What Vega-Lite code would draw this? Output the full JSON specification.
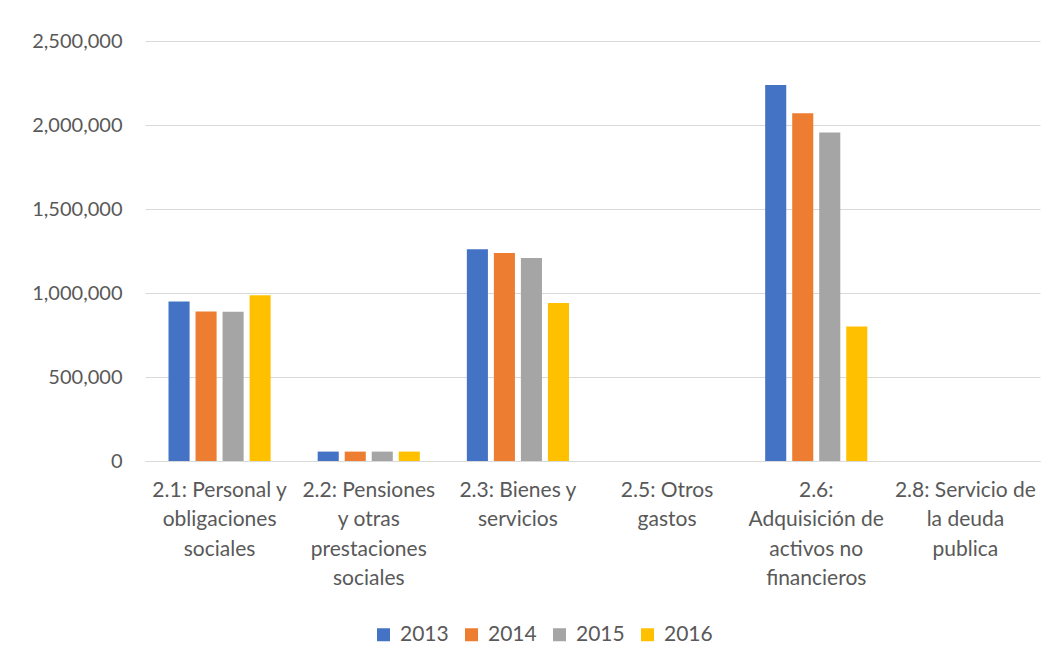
{
  "$schema": "https://vega.github.io/schema/vega-lite/v6.json",
  "width": 895,
  "height": 420,
  "autosize": "none",
  "padding": {"left": 145, "top": 41, "right": 16, "bottom": 203},
  "background": "white",
  "config": {
    "view": {"stroke": null},
    "font": "Lato"
  },
  "data": {
    "values": [
      {"cat": "2.1: Personal y obligaciones sociales", "year": "2013", "value": 949000},
      {"cat": "2.1: Personal y obligaciones sociales", "year": "2014", "value": 890000},
      {"cat": "2.1: Personal y obligaciones sociales", "year": "2015", "value": 889000},
      {"cat": "2.1: Personal y obligaciones sociales", "year": "2016", "value": 987000},
      {"cat": "2.2: Pensiones y otras prestaciones sociales", "year": "2013", "value": 56000},
      {"cat": "2.2: Pensiones y otras prestaciones sociales", "year": "2014", "value": 56000},
      {"cat": "2.2: Pensiones y otras prestaciones sociales", "year": "2015", "value": 56000},
      {"cat": "2.2: Pensiones y otras prestaciones sociales", "year": "2016", "value": 56000},
      {"cat": "2.3: Bienes y servicios", "year": "2013", "value": 1260000},
      {"cat": "2.3: Bienes y servicios", "year": "2014", "value": 1238000},
      {"cat": "2.3: Bienes y servicios", "year": "2015", "value": 1208000},
      {"cat": "2.3: Bienes y servicios", "year": "2016", "value": 940000},
      {"cat": "2.5: Otros gastos", "year": "2013", "value": 0},
      {"cat": "2.5: Otros gastos", "year": "2014", "value": 0},
      {"cat": "2.5: Otros gastos", "year": "2015", "value": 0},
      {"cat": "2.5: Otros gastos", "year": "2016", "value": 0},
      {"cat": "2.6: Adquisición de activos no financieros", "year": "2013", "value": 2238000},
      {"cat": "2.6: Adquisición de activos no financieros", "year": "2014", "value": 2070000},
      {"cat": "2.6: Adquisición de activos no financieros", "year": "2015", "value": 1956000},
      {"cat": "2.6: Adquisición de activos no financieros", "year": "2016", "value": 800000},
      {"cat": "2.8: Servicio de la deuda publica", "year": "2013", "value": 0},
      {"cat": "2.8: Servicio de la deuda publica", "year": "2014", "value": 0},
      {"cat": "2.8: Servicio de la deuda publica", "year": "2015", "value": 0},
      {"cat": "2.8: Servicio de la deuda publica", "year": "2016", "value": 0}
    ]
  },
  "mark": {"type": "bar"},
  "encoding": {
    "x": {
      "field": "cat",
      "type": "nominal",
      "sort": null,
      "title": null,
      "scale": {"paddingInner": 0, "paddingOuter": 0},
      "axis": {
        "labelAngle": 0,
        "labelLimit": 0,
        "labelFontSize": 21,
        "labelColor": "#595959",
        "labelLineHeight": 29.5,
        "labelPadding": 18,
        "labelBaseline": "top",
        "ticks": false,
        "domainColor": "#d9d9d9",
        "domainWidth": 1,
        "labelExpr": "datum.value == '2.1: Personal y obligaciones sociales' ? ['2.1: Personal y', 'obligaciones', 'sociales'] : datum.value == '2.2: Pensiones y otras prestaciones sociales' ? ['2.2: Pensiones', 'y otras', 'prestaciones', 'sociales'] : datum.value == '2.3: Bienes y servicios' ? ['2.3: Bienes y', 'servicios'] : datum.value == '2.5: Otros gastos' ? ['2.5: Otros', 'gastos'] : datum.value == '2.6: Adquisición de activos no financieros' ? ['2.6:', 'Adquisición de', 'activos no', 'financieros'] : ['2.8: Servicio de', 'la deuda', 'publica']"
      }
    },
    "xOffset": {
      "field": "year",
      "type": "nominal",
      "scale": {"paddingInner": 0.22, "paddingOuter": 0.87}
    },
    "y": {
      "field": "value",
      "type": "quantitative",
      "title": null,
      "scale": {"domain": [0, 2500000]},
      "axis": {
        "values": [0, 500000, 1000000, 1500000, 2000000, 2500000],
        "format": ",.0f",
        "grid": true,
        "gridColor": "#d9d9d9",
        "gridWidth": 1,
        "domain": false,
        "ticks": false,
        "labelFontSize": 20,
        "labelColor": "#595959",
        "labelPadding": 23
      }
    },
    "color": {
      "field": "year",
      "type": "nominal",
      "scale": {"domain": ["2013", "2014", "2015", "2016"], "range": ["#4472C4", "#ED7D31", "#A5A5A5", "#FFC000"]},
      "legend": {
        "title": null,
        "orient": "none",
        "direction": "horizontal",
        "legendX": 228,
        "legendY": 583,
        "symbolType": "square",
        "symbolSize": 169,
        "symbolStrokeWidth": 0,
        "labelFontSize": 21,
        "labelColor": "#595959",
        "labelOffset": 6,
        "columnPadding": 12
      }
    }
  }
}
